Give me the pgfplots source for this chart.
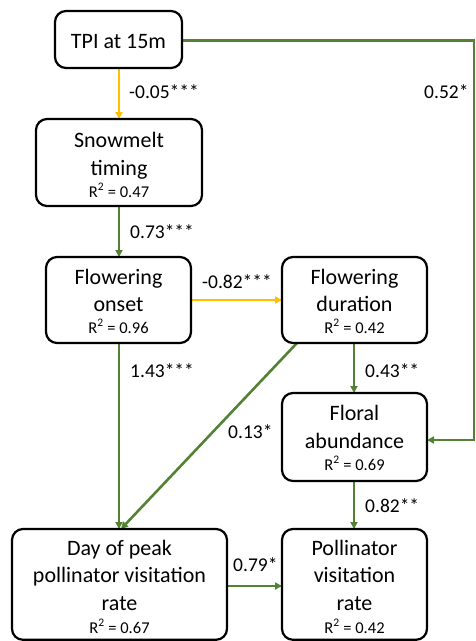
\documentclass[border=0pt]{standalone}
\usepackage{pgfplots}
\pgfplotsset{compat=1.18}
\usepackage{fontspec}
\setmainfont{Carlito}
\usetikzlibrary{arrows.meta}
\definecolor{pgreen}{HTML}{548235}
\definecolor{pyellow}{HTML}{FFC000}
\begin{document}
\begin{tikzpicture}
\begin{axis}[
  width=476pt, height=641pt, scale only axis,
  xmin=0, xmax=476, ymin=0, ymax=641, y dir=reverse,
  hide axis, clip=false,
  every axis plot/.append style={line width=2.6pt, -{Triangle[length=7pt,width=7pt]}},
]
% invisible frame to fix the bounding box
\path (axis cs:0,0) rectangle (axis cs:476,641);
% arrows
\addplot[pyellow] coordinates {(119,68) (119,119)};
\addplot[pgreen] coordinates {(182,40.5) (474,40.5) (474,440) (427,440)};
\addplot[pgreen] coordinates {(119,206) (119,257)};
\addplot[pyellow] coordinates {(191,300) (282,300)};
\addplot[pgreen] coordinates {(119,343) (119,529)};
\addplot[pgreen] coordinates {(297,343) (121,529)};
\addplot[pgreen] coordinates {(354,343) (354,393)};
\addplot[pgreen] coordinates {(354,481) (354,529)};
\addplot[pgreen] coordinates {(227,586) (282,586)};
% boxes
\tikzset{bx/.style={draw=black, line width=2.2pt, rounded corners=11pt, fill=white}}
\draw[bx] (axis cs:55,11) rectangle (axis cs:182,68);
\draw[bx] (axis cs:36,119) rectangle (axis cs:202,206);
\draw[bx] (axis cs:46,257) rectangle (axis cs:191,343);
\draw[bx] (axis cs:282,257) rectangle (axis cs:427,343);
\draw[bx] (axis cs:282,393) rectangle (axis cs:427,481);
\draw[bx] (axis cs:12,529) rectangle (axis cs:227,639.8);
\draw[bx] (axis cs:282,529) rectangle (axis cs:427,639.8);
% box text
\tikzset{bt/.style={anchor=base, inner sep=0pt, font=\fontsize{22}{26}\selectfont},
         rt/.style={anchor=base, inner sep=0pt, font=\fontsize{16.5}{19}\selectfont},
         lt/.style={anchor=base west, inner sep=0pt, font=\fontsize{19.5}{23}\selectfont}}
\node[bt] at (axis cs:118.5,48) {TPI at 15m};
\node[bt] at (axis cs:119,147) {Snowmelt};
\node[bt] at (axis cs:119,175) {timing};
\node[rt] at (axis cs:119,197) {R\textsuperscript{2} = 0.47};
\node[bt] at (axis cs:118.5,284) {Flowering};
\node[bt] at (axis cs:118.5,311) {onset};
\node[rt] at (axis cs:118.5,333) {R\textsuperscript{2} = 0.96};
\node[bt] at (axis cs:354.5,284) {Flowering};
\node[bt] at (axis cs:354.5,311) {duration};
\node[rt] at (axis cs:354.5,333) {R\textsuperscript{2} = 0.42};
\node[bt] at (axis cs:354.5,420) {Floral};
\node[bt] at (axis cs:354.5,448) {abundance};
\node[rt] at (axis cs:354.5,470) {R\textsuperscript{2} = 0.69};
\node[bt] at (axis cs:119.5,555) {Day of peak};
\node[bt] at (axis cs:119.5,582) {pollinator visitation};
\node[bt] at (axis cs:119.5,610) {rate};
\node[rt] at (axis cs:119.5,633) {R\textsuperscript{2} = 0.67};
\node[bt] at (axis cs:354.5,555) {Pollinator};
\node[bt] at (axis cs:354.5,582) {visitation};
\node[bt] at (axis cs:354.5,610) {rate};
\node[rt] at (axis cs:354.5,633) {R\textsuperscript{2} = 0.42};
% coefficient labels
\node[lt] at (axis cs:129,98) {-0.05***};
\node[lt] at (axis cs:424,98) {0.52*};
\node[lt] at (axis cs:130,238) {0.73***};
\node[lt] at (axis cs:202,288) {-0.82***};
\node[lt] at (axis cs:130,377) {1.43***};
\node[lt] at (axis cs:365,377) {0.43**};
\node[lt] at (axis cs:228,438) {0.13*};
\node[lt] at (axis cs:365,512) {0.82**};
\node[lt] at (axis cs:233,571) {0.79*};
\end{axis}
\end{tikzpicture}
\end{document}
